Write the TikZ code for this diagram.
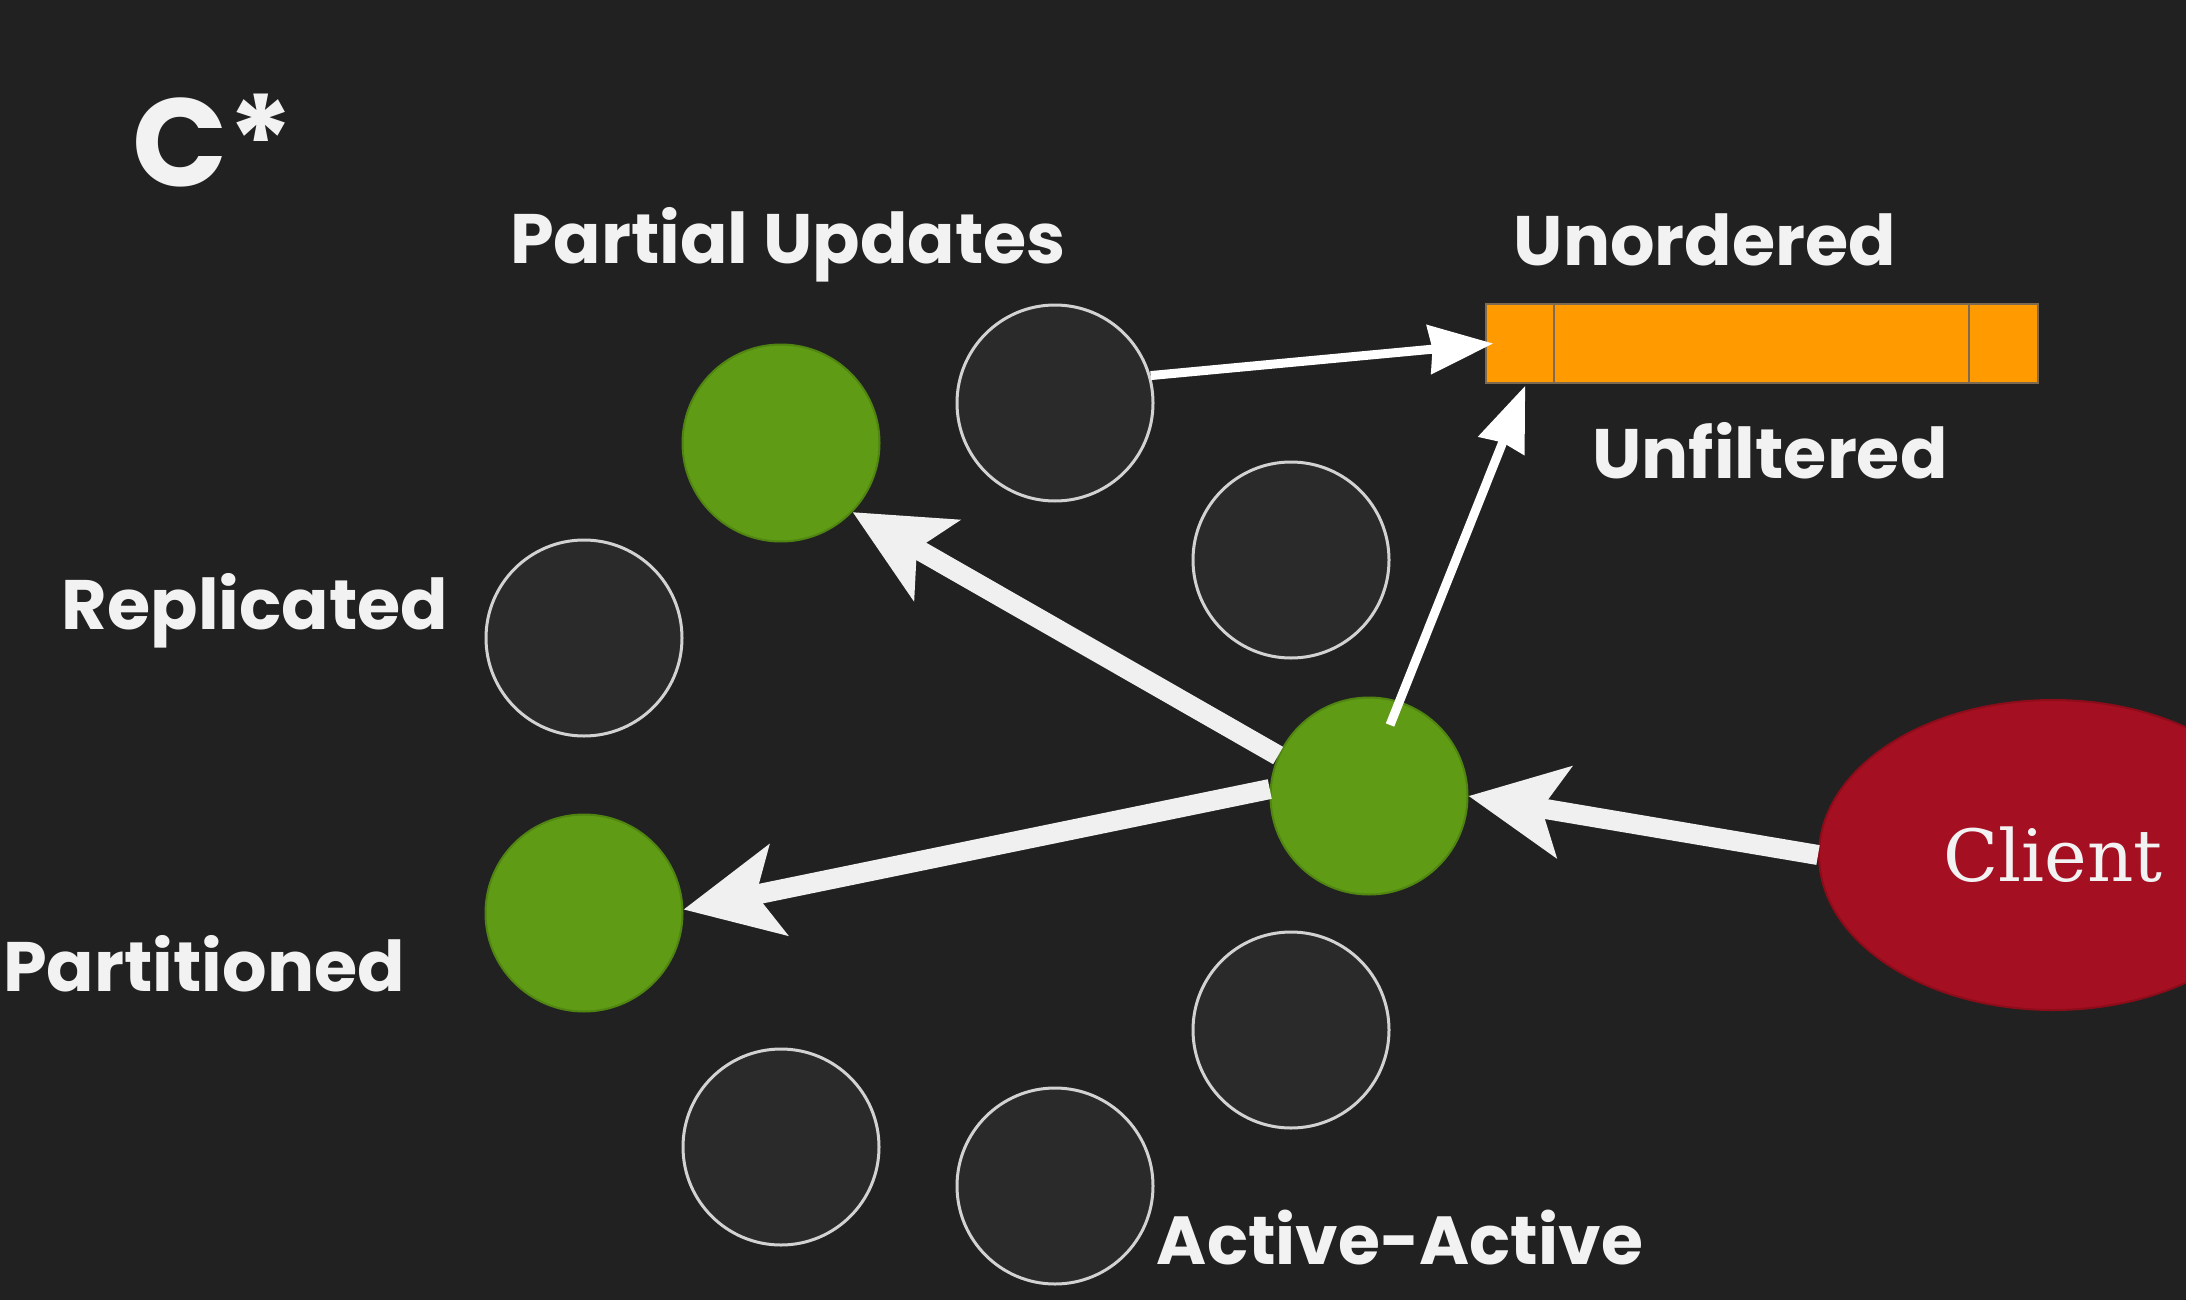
\documentclass[tikz,border=0pt]{standalone}
\usepackage{fontspec}
\setmainfont{Poppins}
\newfontfamily\clientfont{DejaVu Serif}
\usetikzlibrary{shapes.geometric,arrows.meta,calc}
\definecolor{bg}{HTML}{212121}
\definecolor{darkfill}{HTML}{2A2A2A}
\definecolor{ringgray}{HTML}{D2D2D2}
\definecolor{nodegreen}{HTML}{5F9B15}
\definecolor{greenedge}{HTML}{4F8510}
\definecolor{clientred}{HTML}{A50F22}
\definecolor{clientedge}{HTML}{8C0C1A}
\definecolor{barorange}{HTML}{FF9A00}
\definecolor{bardiv}{HTML}{7D6A50}
\definecolor{labelwhite}{HTML}{F2F2F2}
\definecolor{arrowwhite}{HTML}{F0F0F0}
\begin{document}
\begin{tikzpicture}[x=1pt,y=-1pt,
  darknode/.style={circle, draw=ringgray, line width=3pt, fill=darkfill, minimum size=196pt, inner sep=0pt},
  greennode/.style={circle, draw=greenedge, line width=2pt, fill=nodegreen, minimum size=197pt, inner sep=0pt},
  thickarrow/.style={draw=arrowwhite, line width=20pt, -{Stealth[length=96pt,width=91pt,inset=22pt]}},
  thinarrow/.style={draw=white, line width=9pt, -{Stealth[length=64pt,width=48pt,inset=3pt]}},
  lbl/.style={text=labelwhite, font=\bfseries\fontsize{70}{70}\selectfont, anchor=base, inner sep=0pt}
]
\useasboundingbox (0,0) rectangle (2186,1300);
\fill[bg] (0,0) rectangle (2186,1300);

% nodes
\node[greennode] (gt) at (781,443) {};
\node[darknode] (dt) at (1055,403) {};
\node[darknode] (dru) at (1291,560) {};
\node[greennode] (gc) at (1369,796) {};
\node[darknode] (drl) at (1291,1030) {};
\node[darknode] (db) at (1055,1186) {};
\node[darknode] (dbl) at (781,1147) {};
\node[greennode] (gl) at (584,913) {};
\node[darknode] (dl) at (584,638) {};

\node[ellipse, fill=clientred, draw=clientedge, line width=2pt, minimum width=468pt, minimum height=310pt,
      text=labelwhite, font=\clientfont\fontsize{72}{72}\selectfont] (client) at (2053,855) {Client};

\node[rectangle, fill=barorange, draw=bardiv, line width=1.5pt, minimum width=552pt, minimum height=79pt, inner sep=0pt] (bar) at (1762,343.5) {};
\draw[bardiv, line width=2pt] ($(bar.north west)+(69,0)$) -- ($(bar.south west)+(69,0)$);
\draw[bardiv, line width=2pt] ($(bar.north west)+(484,0)$) -- ($(bar.south west)+(484,0)$);

% labels
\node[text=labelwhite, font=\bfseries\fontsize{125}{125}\selectfont, anchor=base west, inner sep=0pt] (cstar) at (132,186) {C*};
\node[lbl] (lpu) at (788,263) {Partial Updates};
\node[lbl] (lun) at (1705,265) {Unordered};
\node[lbl] (luf) at (1770,478) {Unfiltered};
\node[lbl] (lrep) at (255,629) {Replicated};
\node[lbl] (lpart) at (204,991) {Partitioned};
\node[lbl, font=\bfseries\fontsize{68}{68}\selectfont] (laa) at (1400,1264) {Active-Active};

% arrows
\coordinate (a2s) at (1390,725);
\coordinate (a2e) at ($(bar.south west)+(40,2)$);
\coordinate (a1e) at ($(bar.west)+(8,0)$);
\draw[thinarrow] (dt.16) -- (a1e);
\draw[thinarrow] (a2s) -- (a2e);
\draw[thickarrow] (gc.156) -- (gt.-44);
\draw[thickarrow] (gc.176) -- (gl.2);
\draw[thickarrow] (client.west) -- (gc.0);
\end{tikzpicture}
\end{document}
